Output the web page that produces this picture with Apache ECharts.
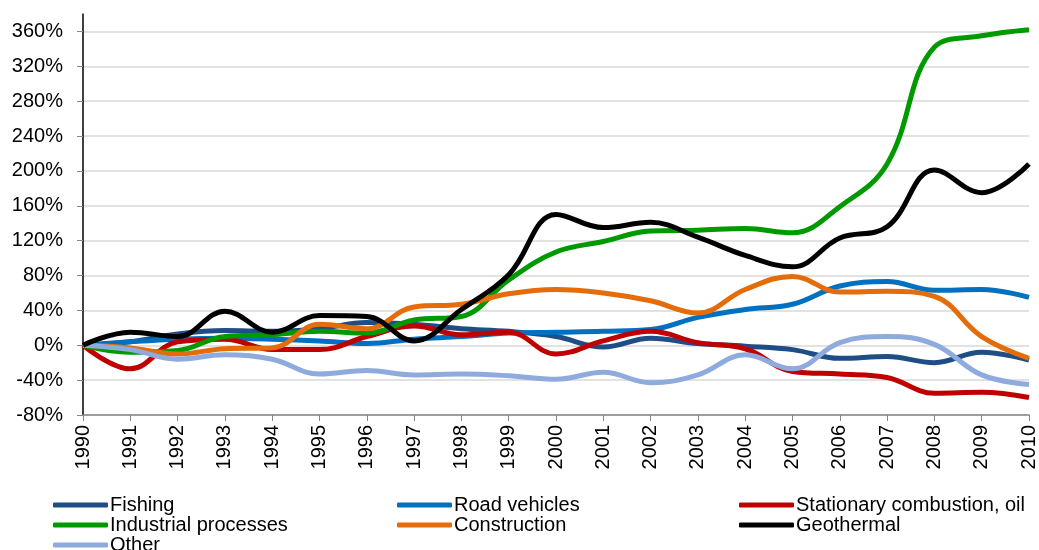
<!DOCTYPE html>
<html>
<head>
<meta charset="utf-8">
<script src="https://cdn.jsdelivr.net/npm/echarts@6/dist/echarts.min.js"></script>
<style>
  html, body { margin: 0; padding: 0; background: #fff; }
  #chart { width: 1039px; height: 550px; }
</style>
</head>
<body>
<div id="chart"></div>
<script>
var years = ["1990", "1991", "1992", "1993", "1994", "1995", "1996", "1997", "1998", "1999", "2000",
  "2001", "2002", "2003", "2004", "2005", "2006", "2007", "2008", "2009", "2010"];

var fishing = [0, 4, 13, 17, 16, 19, 26, 24, 19, 16, 10, -2, 8, 2, -1, -5, -15, -13, -20, -8, -17];
var roadVehicles = [0, 4, 7, 8, 7, 5, 2, 7, 10, 14, 15, 16, 18, 32, 41, 47, 68, 73, 63, 64, 55];
var stationaryOil = [0, -27, 4, 7, -5, -5, 10, 22, 12, 15, -10, 5, 16, 3, -4, -30, -33, -37, -55, -54, -60];
var industrial = [0, -8, -6, 10, 12, 16, 14, 29, 33, 75, 107, 119, 131, 132, 134, 129, 159, 208, 342, 355, 362];
var construction = [0, -3, -10, -4, -3, 24, 19, 44, 47, 59, 64, 60, 51, 37, 64, 79, 61, 62, 56, 10, -15];
var geothermal = [0, 15, 10, 39, 15, 34, 33, 5, 41, 81, 150, 135, 141, 124, 103, 90, 123, 136, 201, 175, 208];
var other = [0, -5, -16, -11, -16, -33, -29, -34, -33, -35, -39, -31, -43, -34, -11, -27, 3, 10, 1, -34, -45];

var font = "Liberation Sans, Arial, sans-serif";

function line(name, data, color) {
  return {
    name: name,
    type: "line",
    data: data,
    smooth: 0.4,
    symbol: "none",
    lineStyle: { color: color, width: 5 },
    itemStyle: { color: color }
  };
}

function legendCol(left, names) {
  return {
    orient: "vertical",
    left: left,
    top: 495,
    height: 90,
    data: names,
    icon: "roundRect",
    itemWidth: 55,
    itemHeight: 5,
    itemGap: 0,
    padding: 0,
    textStyle: { fontFamily: font, fontSize: 20, lineHeight: 19, color: "#000", padding: [0, 0, 0, -3] }
  };
}

var chart = echarts.init(document.getElementById("chart"));
chart.setOption({
  animation: false,
  grid: { left: 83, right: 9, top: 14, bottom: 135, containLabel: false },
  legend: [
    legendCol(53, ["Fishing", "Industrial processes", "Other"]),
    legendCol(397, ["Road vehicles", "Construction"]),
    legendCol(739, ["Stationary combustion, oil", "Geothermal"])
  ],
  xAxis: {
    type: "category",
    data: years,
    boundaryGap: false,
    axisLine: { onZero: false, lineStyle: { color: "#868686", width: 1.5 } },
    axisTick: { show: true, length: 6, lineStyle: { color: "#868686" } },
    axisLabel: { rotate: 90, fontFamily: font, fontSize: 20, color: "#000", margin: 10, interval: 0 }
  },
  yAxis: {
    type: "value",
    min: -80,
    max: 380,
    interval: 40,
    axisLine: { show: true, lineStyle: { color: "#000", width: 1.5 } },
    axisTick: { show: true, length: 6, lineStyle: { color: "#868686" } },
    axisLabel: {
      fontFamily: font, fontSize: 20, color: "#000", margin: 20,
      showMaxLabel: false,
      formatter: function (v) { return v > 360 ? "" : v + "%"; }
    },
    splitLine: { show: true, showMaxLine: false, lineStyle: { color: "#d9d9d9", width: 1.5 } }
  },
  series: [
    line("Fishing", fishing, "#1f4e86"),
    line("Road vehicles", roadVehicles, "#0070c0"),
    line("Stationary combustion, oil", stationaryOil, "#c00000"),
    line("Industrial processes", industrial, "#009a00"),
    line("Construction", construction, "#e46c0a"),
    line("Other", other, "#8faadc"),
    line("Geothermal", geothermal, "#000000")
  ]
});
</script>
</body>
</html>
